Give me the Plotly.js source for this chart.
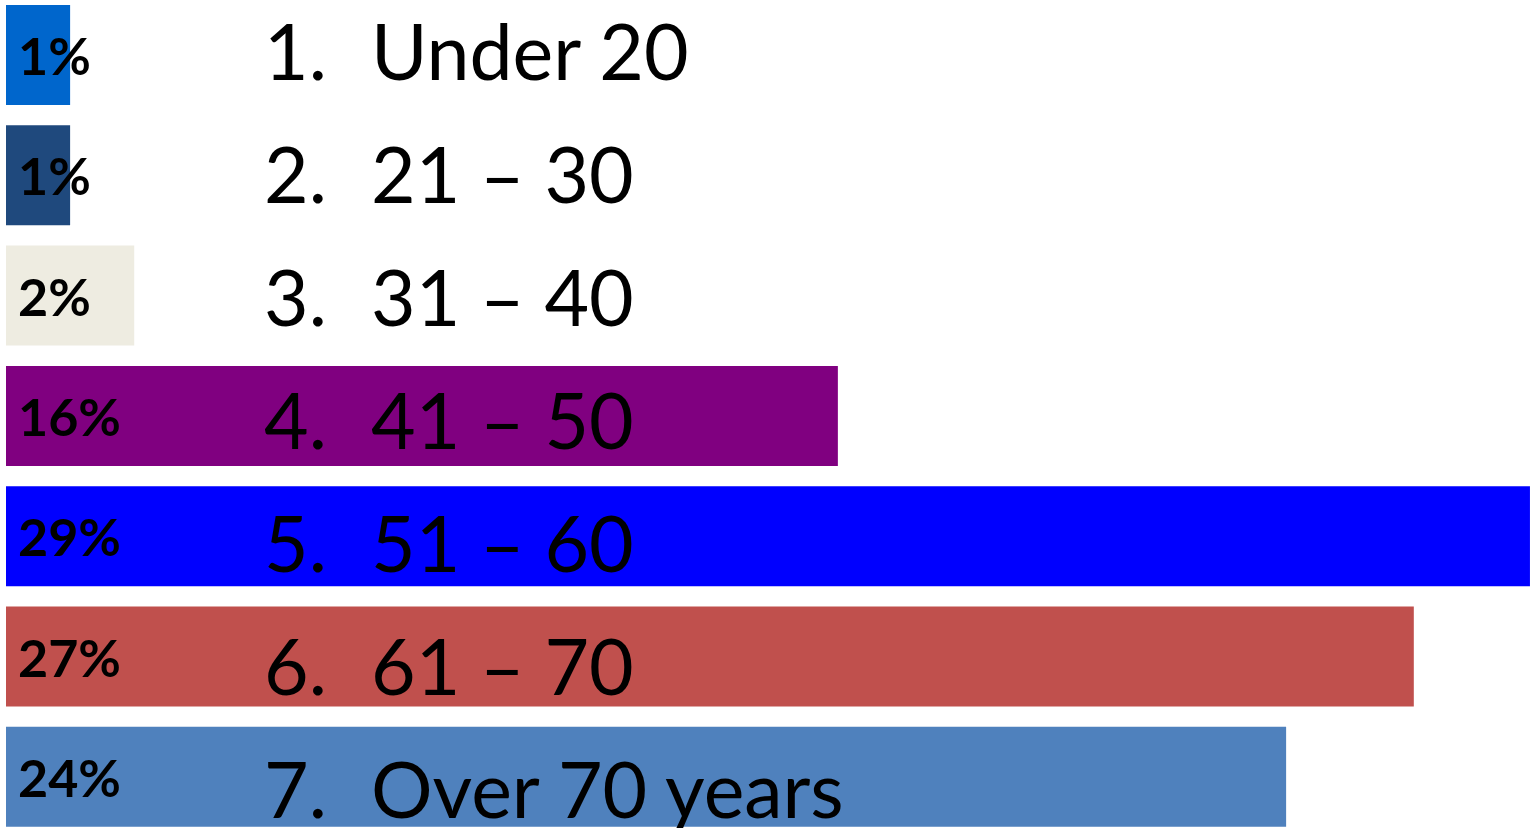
<!DOCTYPE html>
<html>
<head>
<meta charset="utf-8">
<script src="https://cdn.plot.ly/plotly-3.0.1.min.js"></script>
<style>html,body{margin:0;padding:0;background:#fff;overflow:hidden}#chart{width:1530px;height:828px}</style>
</head>
<body>
<div id="chart"></div>
<script>
var numbers = ["1.", "2.", "3.", "4.", "5.", "6.", "7."];
var categories = ["Under 20", "21 \u2013 30", "31 \u2013 40", "41 \u2013 50", "51 \u2013 60", "61 \u2013 70", "Over 70 years"];
var values = [1.22, 1.22, 2.44, 15.83, 29.0, 26.79, 24.36];
var colors = ["#0066CC", "#1F497D", "#EEECE1", "#800080", "#0000FF", "#C0504D", "#4F81BD"];

var W = 1530, H = 828;
var pitch = 120.3;
var pctLabels = values.map(function(v){ return Math.round(v) + "%"; });

var trace = {
  type: "bar",
  orientation: "h",
  x: values,
  y: categories,
  marker: {color: colors, line: {width: 0}},
  hoverinfo: "none",
  showlegend: false
};

var annotations = [];
categories.forEach(function(c, i){
  annotations.push({
    x: 16 / W, xref: "paper", xanchor: "left",
    y: c, yref: "y", yanchor: "middle",
    text: "<b>" + pctLabels[i] + "</b>",
    showarrow: false,
    font: {family: "Lato", size: 52, color: "#000000", weight: 900}
  });
  var ypx = 50 + i * 123;
  annotations.push({
    x: 262 / W, xref: "paper", xanchor: "left",
    y: 1 - ypx / H, yref: "paper", yanchor: "middle",
    text: numbers[i],
    showarrow: false,
    font: {family: "Lato", size: 77, color: "#000000"}
  });
  annotations.push({
    x: 369 / W, xref: "paper", xanchor: "left",
    y: 1 - ypx / H, yref: "paper", yanchor: "middle",
    text: c,
    showarrow: false,
    font: {family: "Lato", size: 77, color: "#000000"}
  });
});

var layout = {
  width: W, height: H,
  margin: {l: 0, r: 0, t: 0, b: 0, pad: 0},
  paper_bgcolor: "#ffffff",
  plot_bgcolor: "#ffffff",
  bargap: 20.3 / pitch,
  xaxis: {range: [-6 / 52.55, 1524 / 52.55], visible: false, fixedrange: true},
  yaxis: {type: "category", range: [(828 - 55) / pitch, -55 / pitch], visible: false, fixedrange: true},
  annotations: annotations
};

Plotly.newPlot("chart", [trace], layout, {staticPlot: true, displayModeBar: false});
</script>
</body>
</html>
